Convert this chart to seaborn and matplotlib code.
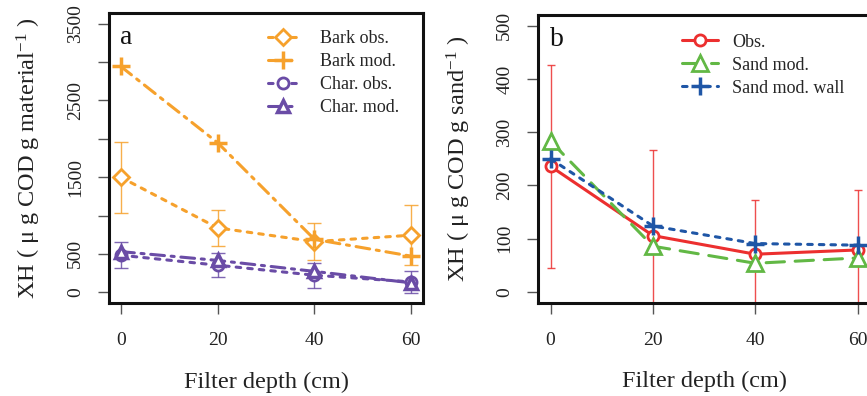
import numpy as np
import pandas as pd
import matplotlib
matplotlib.use("Agg")
import matplotlib.pyplot as plt
import seaborn as sns

# ---------------- data ----------------
depth = [0, 20, 40, 60]

bark_obs = [1500, 840, 660, 744]
bark_obs_sd = [465, 238, 238, 395]
bark_mod = [2945, 1950, 690, 470]
char_obs = [483, 353, 222, 135]
char_obs_sd = [167, 153, 162, 145]
char_mod = [530, 415, 272, 122]

sand_obs = [236, 106, 71, 79]
sand_obs_sd = [190, 160, 102, 112]
sand_mod = [283, 86, 54, 64]
sand_mod_wall = [250, 124, 91, 88]

yticks_a = [0, 500, 1000, 1500, 2000, 2500, 3000, 3500]
yticklabels_a = ["0", "500", "", "1500", "", "2500", "", "3500"]
yticks_b = [0, 100, 200, 300, 400, 500]
xticks = [0, 20, 40, 60]

# ---------------- style ----------------
sns.set_style("ticks")
plt.rcParams["font.family"] = ["Liberation Serif", "DejaVu Serif"]
plt.rcParams["mathtext.fontset"] = "custom"
plt.rcParams["mathtext.rm"] = "Liberation Serif"
plt.rcParams["mathtext.it"] = "Liberation Serif:italic"
plt.rcParams["mathtext.bf"] = "Liberation Serif:bold"

ORANGE = "#F6A12C"
PURPLE = "#6A4CA6"
RED = "#EC2F2F"
GREEN = "#62B845"
BLUE = "#1F56A6"

fig = plt.figure(figsize=(8.67, 3.96), dpi=100)
W, H = 867.0, 396.0
ax_a = fig.add_axes([109 / W, 1 - 303 / H, 314 / W, 290 / H])
ax_b = fig.add_axes([538.3 / W, 1 - 302.7 / H, 331.5 / W, 287.7 / H])

LW = 2.2
DOT = (0, (1.5, 2.3))
DASHDOT = (0, (4.5, 2.2, 1.0, 2.2))
DASHED = (0, (6.0, 3.5))


def series(ax, y, color, marker, ms, ls, label, mfc="white", mew=2.0, zorder=3):
    df = pd.DataFrame({"depth": depth, "val": y})
    sns.lineplot(data=df, x="depth", y="val", ax=ax, color=color, marker=marker,
                 markersize=ms, markerfacecolor=mfc, markeredgecolor=color,
                 markeredgewidth=mew, linewidth=LW, linestyle=ls,
                 dash_capstyle="round", label=label, zorder=zorder)


def ebar(ax, y, sd, color, cap):
    ax.errorbar(depth, y, yerr=sd, fmt="none", ecolor=color, elinewidth=1.0,
                capsize=cap, capthick=1.0, zorder=2, alpha=0.85)


# ---------------- panel a ----------------
ebar(ax_a, bark_obs, bark_obs_sd, ORANGE, 5)
ebar(ax_a, char_obs, char_obs_sd, PURPLE, 5)
series(ax_a, bark_obs, ORANGE, "D", 8.5, DOT, "Bark obs.")
series(ax_a, bark_mod, ORANGE, "+", 13, DASHDOT, "Bark mod.", mew=2.5)
series(ax_a, char_obs, PURPLE, "o", 8, DOT, "Char. obs.")
series(ax_a, char_mod, PURPLE, "^", 9, DASHDOT, "Char. mod.", mew=2.5)

ax_a.set_xlim(-2.4, 62.4)
ax_a.set_ylim(-140, 3640)
ax_a.set_xticks(xticks)
ax_a.set_xticklabels([str(t) for t in xticks])
ax_a.set_yticks(yticks_a)
ax_a.set_yticklabels(yticklabels_a, rotation=90, va="center")
ax_a.set_xlabel("Filter depth (cm)", fontsize=17.5, labelpad=16)
ax_a.set_ylabel(r"XH ( μ g COD g material$^{-1}$ )", fontsize=17.5, labelpad=17)
ax_a.text(0.035, 0.96, "a", transform=ax_a.transAxes, fontsize=20,
          ha="left", va="top", color="#111111")
ax_a.legend(loc="upper left", bbox_to_anchor=(0.505, 0.94), frameon=False,
            fontsize=13, handlelength=1.7, handletextpad=1.2, labelspacing=0.33,
            borderpad=0, borderaxespad=0)

# ---------------- panel b ----------------
ebar(ax_b, sand_obs, sand_obs_sd, RED, 3)
series(ax_b, sand_obs, RED, "o", 8, "-", "Obs.")
series(ax_b, sand_mod, GREEN, "^", 11, DASHED, "Sand mod.")
series(ax_b, sand_mod_wall, BLUE, "+", 13, DOT, "Sand mod. wall", mew=2.5)

ax_b.set_xlim(-2.4, 62.4)
ax_b.set_ylim(-20, 520)
ax_b.set_xticks(xticks)
ax_b.set_xticklabels([str(t) for t in xticks])
ax_b.set_yticks(yticks_b)
ax_b.set_yticklabels([str(t) for t in yticks_b], rotation=90, va="center")
ax_b.set_xlabel("Filter depth (cm)", fontsize=17.5, labelpad=16)
ax_b.set_ylabel(r"XH ( μ g COD g sand$^{-1}$ )", fontsize=17.5, labelpad=17)
ax_b.text(0.035, 0.96, "b", transform=ax_b.transAxes, fontsize=20,
          ha="left", va="top", color="#111111")
ax_b.legend(loc="upper left", bbox_to_anchor=(0.433, 0.935), frameon=False,
            fontsize=13, handlelength=2.0, handletextpad=0.8, labelspacing=0.33,
            borderpad=0, borderaxespad=0)

for ax in (ax_a, ax_b):
    for sp in ax.spines.values():
        sp.set_visible(True)
        sp.set_linewidth(2.2)
        sp.set_color("#111111")
    ax.tick_params(axis="both", direction="out", length=8, width=1.0,
                   color="#555555", labelsize=14, labelcolor="#222222", pad=10)
    ax.tick_params(axis="x", pad=13)
    ax.xaxis.label.set_color("#222222")
    ax.yaxis.label.set_color("#222222")

fig.savefig("out.png", dpi=100)
